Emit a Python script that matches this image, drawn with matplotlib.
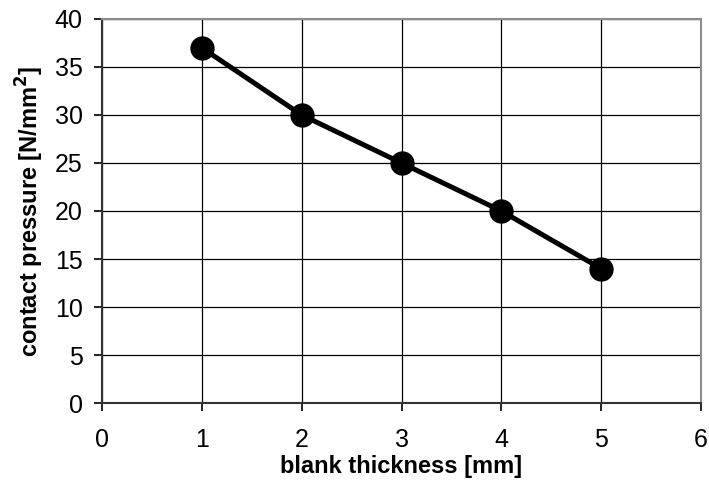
import matplotlib
matplotlib.use("Agg")
import matplotlib.pyplot as plt

# Data
thickness = [1, 2, 3, 4, 5]
pressure = [37, 30, 25, 20, 14]

plt.rcParams['font.family'] = ['Liberation Sans', 'DejaVu Sans']

fig = plt.figure(figsize=(7.09, 4.83), dpi=100)
ax = fig.add_axes([0.1439, 0.1656, 0.8448, 0.7951])

ax.plot(thickness, pressure, color='black', linewidth=3.6, marker='o',
        markersize=16.5, markerfacecolor='black', markeredgecolor='black',
        zorder=3, clip_on=False)

ax.set_xlim(0, 6)
ax.set_ylim(0, 40)
ax.set_xticks(range(0, 7))
ax.set_yticks(range(0, 41, 5))
ax.grid(True, color='black', linewidth=0.9)
ax.set_axisbelow(True)

for side in ['top', 'right']:
    ax.spines[side].set_color('#8c8c8c')
    ax.spines[side].set_linewidth(1.5)
for side in ['left', 'bottom']:
    ax.spines[side].set_color('#333333')
    ax.spines[side].set_linewidth(1.5)

ax.tick_params(axis='both', direction='out', length=6, width=1.2,
               labelsize=18, colors='black')
ax.tick_params(axis='x', pad=12)
ax.tick_params(axis='y', pad=8)

ax.set_xlabel('blank thickness [mm]', fontsize=17, fontweight='bold', labelpad=2)
ax.set_ylabel('contact pressure [N/mm$^\\mathbf{2}$]', fontsize=17,
              fontweight='bold', labelpad=6)

fig.savefig('out.png', dpi=100)
